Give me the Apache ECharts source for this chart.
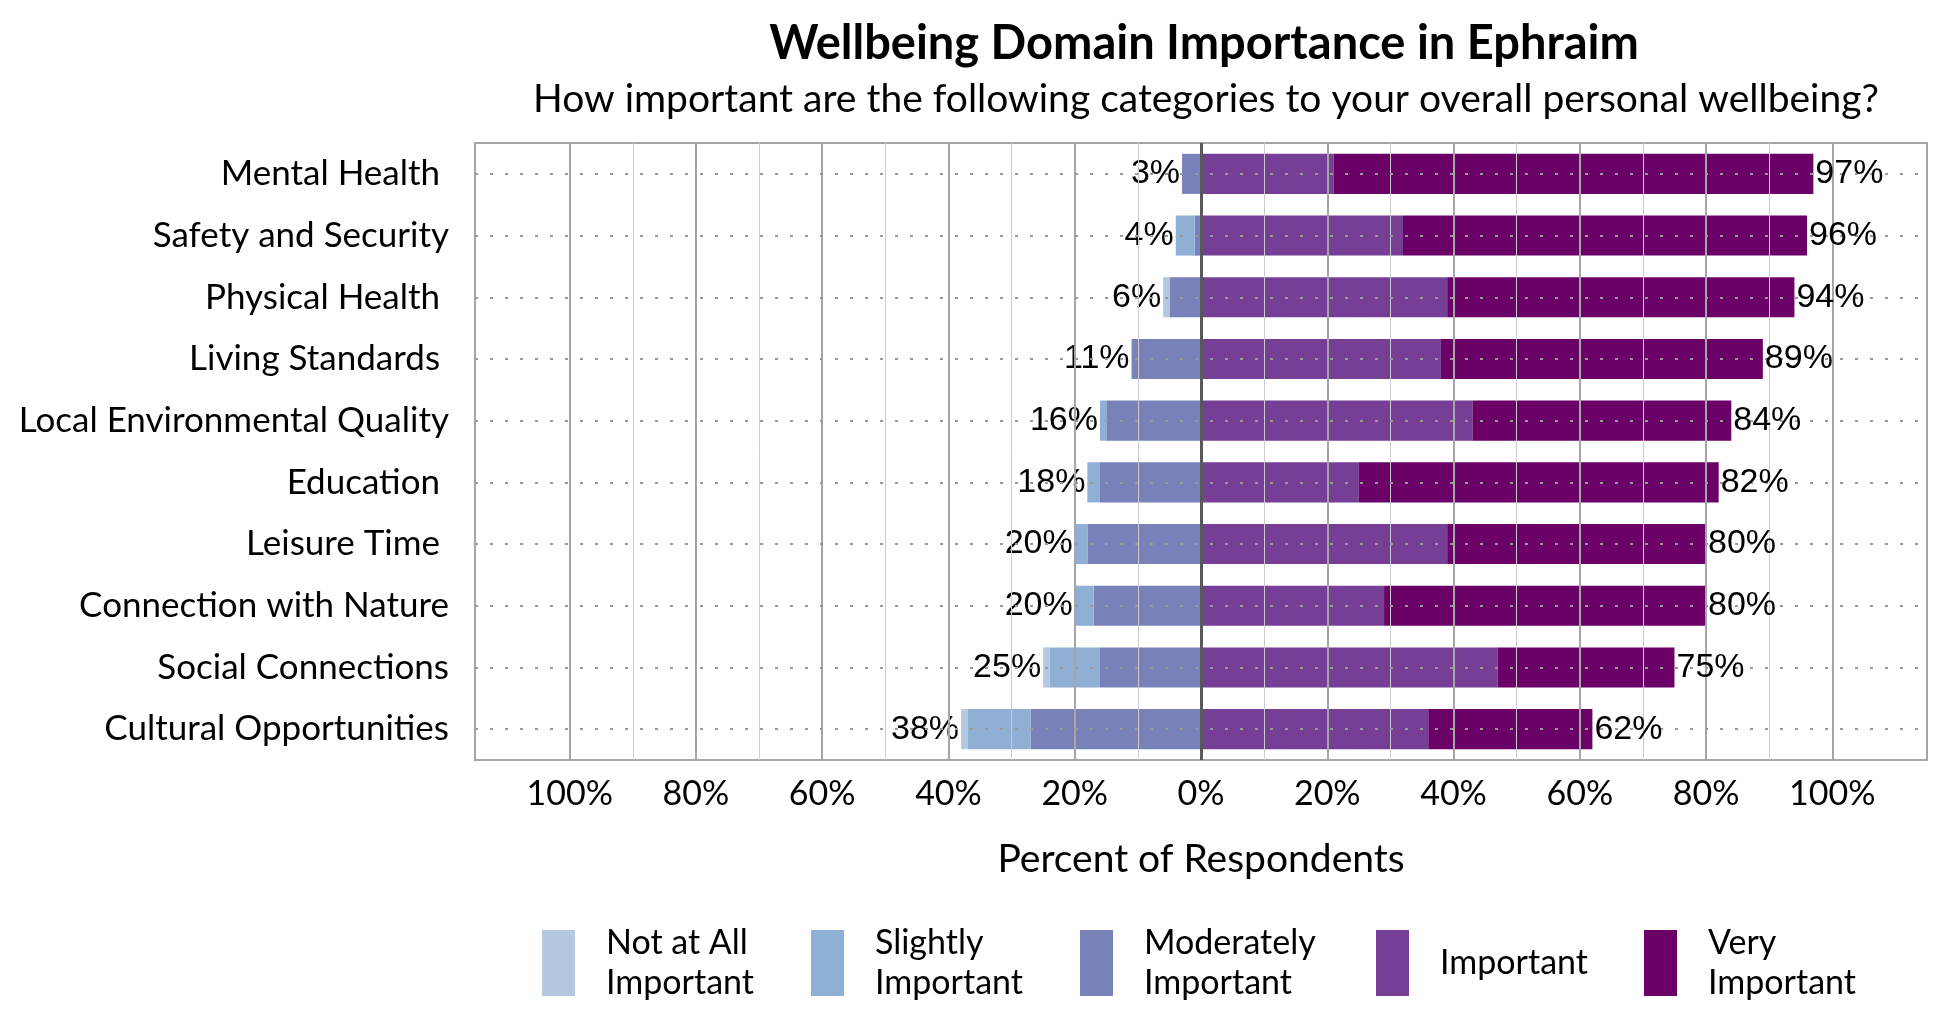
<!DOCTYPE html>
<html>
<head>
<meta charset="utf-8">
<script src="https://cdn.jsdelivr.net/npm/echarts@6/dist/echarts.min.js"></script>
<style>
html,body{margin:0;padding:0;background:#fff;}
#chart{width:1950px;height:1020px;}
</style>
</head>
<body>
<div id="chart"></div>
<script>
var categories = ['Mental Health ','Safety and Security','Physical Health ','Living Standards ','Local Environmental Quality','Education ','Leisure Time ','Connection with Nature','Social Connections','Cultural Opportunities'];
var notAtAll      = [0, 0, 1, 0, 0, 0, 0, 0, 1, 1];
var slightly      = [0, 3, 0, 0, 1, 2, 2, 3, 8, 10];
var moderately    = [3, 1, 5, 11, 15, 16, 18, 17, 16, 27];
var important     = [21, 32, 39, 38, 43, 25, 39, 29, 47, 36];
var veryImportant = [76, 64, 55, 51, 41, 57, 41, 51, 28, 26];
var seriesNames   = ['Not at All Important','Slightly Important','Moderately Important','Important','Very Important'];
var legendLabels  = ['Not at All\nImportant','Slightly\nImportant','Moderately\nImportant','Important','Very\nImportant'];
var tickValues    = [-100,-80,-60,-40,-20,0,20,40,60,80,100];
var majorGrid     = [-100,-80,-60,-40,-20,20,40,60,80,100];
var minorGrid     = [-90,-70,-50,-30,-10,10,30,50,70,90];

var colors = ['#b4c9e0','#8fafd4','#7982b8','#763f95','#6b0066'];
var LF = 'Lato, "Open Sans", sans-serif';

var negTotal = categories.map(function(c,i){ return notAtAll[i] + slightly[i] + moderately[i]; });
var posTotal = categories.map(function(c,i){ return important[i] + veryImportant[i]; });

function neg(arr){ return arr.map(function(v){ return -v; }); }

function barSeries(name, data, color){
  return {
    name: name, type: 'bar', stack: 'total', data: data, z: 3,
    barCategoryGap: '35%',
    itemStyle: { color: color },
    emphasis: { disabled: true }
  };
}

var gridLines = majorGrid.map(function(v){ return { xAxis: v, lineStyle: { color: '#a6a6a6', width: 2, type: 'solid' } }; })
  .concat(minorGrid.map(function(v){ return { xAxis: v, lineStyle: { color: '#cccccc', width: 1, type: 'solid' } }; }))
  .concat(categories.map(function(c){ return { yAxis: c, lineStyle: { color: '#999999', width: 2, type: [3, 12] } }; }));

var labelFont = { fontFamily: '"Liberation Sans", Arial, sans-serif', fontSize: 34, color: '#000000', opacity: 1, textBorderWidth: 0 };

var legends = [];
var legendLeft = [542, 811, 1080, 1376, 1644];
seriesNames.forEach(function(n, i){
  legends.push({
    data: [n], left: legendLeft[i], top: (i === 3 ? 930 : 923), padding: 0,
    itemWidth: 33, itemHeight: 66, icon: 'rect', selectedMode: false,
    formatter: function(){ return legendLabels[i]; },
    textStyle: { fontFamily: LF, fontSize: 34, color: '#000', lineHeight: 40, padding: [0,0,0,26] }
  });
});

var option = {
  animation: false,
  backgroundColor: '#fff',
  title: [
    { text: 'Wellbeing Domain Importance in Ephraim', left: 1204, top: 20, textAlign: 'center', padding: 0,
      textStyle: { fontFamily: LF, fontWeight: 'bold', fontSize: 47, color: '#000' } },
    { text: 'How important are the following categories to your overall personal wellbeing?', left: 1206, top: 80, textAlign: 'center', padding: 0,
      textStyle: { fontFamily: LF, fontWeight: 'normal', fontSize: 39, color: '#000' } }
  ],
  legend: legends,
  grid: { left: 475, right: 23, top: 143, bottom: 260, show: true, borderColor: '#a6a6a6', borderWidth: 2, backgroundColor: '#fff', containLabel: false },
  xAxis: {
    type: 'value', min: -115, max: 115,
    axisLine: { show: false }, axisTick: { show: false }, splitLine: { show: false },
    axisLabel: { customValues: tickValues, formatter: function(v){ return Math.abs(v) + '%'; }, fontFamily: LF, fontSize: 34, color: '#000', margin: 17 },
    name: 'Percent of Respondents', nameLocation: 'middle', nameGap: 80,
    nameTextStyle: { fontFamily: LF, fontSize: 39, color: '#000' }
  },
  yAxis: {
    type: 'category', data: categories, inverse: true,
    axisLine: { show: false }, axisTick: { show: false }, splitLine: { show: false },
    axisLabel: { fontFamily: LF, fontSize: 35, color: '#000', margin: 26 }
  },
  series: [
    barSeries(seriesNames[2], neg(moderately), colors[2]),
    barSeries(seriesNames[1], neg(slightly), colors[1]),
    barSeries(seriesNames[0], neg(notAtAll), colors[0]),
    barSeries(seriesNames[3], important, colors[3]),
    barSeries(seriesNames[4], veryImportant, colors[4]),
    {
      name: 'negLabels', type: 'scatter', z: 1, symbolSize: 0, silent: true,
      itemStyle: { opacity: 1 },
      data: categories.map(function(c,i){ return [-negTotal[i], c, negTotal[i]]; }),
      label: Object.assign({ show: true, position: 'left', distance: 2, formatter: function(p){ return p.value[2] + '%'; } }, labelFont),
      markLine: { silent: true, symbol: ['none','none'], label: { show: false }, data: gridLines, animation: false }
    },
    {
      name: 'posLabels', type: 'scatter', z: 10, symbolSize: 0, silent: true,
      itemStyle: { opacity: 1 },
      data: categories.map(function(c,i){ return [posTotal[i], c, posTotal[i]]; }),
      label: Object.assign({ show: true, position: 'right', distance: 2, formatter: function(p){ return p.value[2] + '%'; } }, labelFont),
      markLine: { silent: true, symbol: ['none','none'], label: { show: false }, animation: false,
        data: [{ xAxis: 0, lineStyle: { color: '#595959', width: 3, type: 'solid' } }] }
    }
  ]
};

var chart = echarts.init(document.getElementById('chart'));
chart.setOption(option);
</script>
</body>
</html>
